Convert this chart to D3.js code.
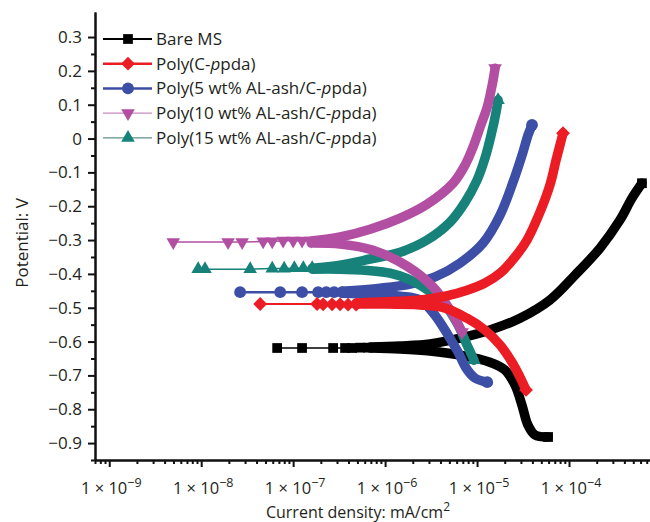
<!DOCTYPE html>
<html>
<head>
<meta charset="utf-8">
<script src="https://cdn.jsdelivr.net/npm/d3@7"></script>
<style>
  body { margin: 0; background: #fff; }
  svg text { font-family: "Open Sans", "Noto Sans", sans-serif; fill: #231f20; }
</style>
</head>
<body>
<div id="chart"></div>
<script>
// Tafel curves: [current density (mA/cm2), potential (V)]
// cathodic = from far cathodic end up to Ecorr, anodic = from Ecorr up
const seriesNames = ['Bare MS', 'Poly(C-ppda)', 'Poly(5 wt% AL-ash/C-ppda)', 'Poly(10 wt% AL-ash/C-ppda)', 'Poly(15 wt% AL-ash/C-ppda)'];

const bareCathodic = [[5.92e-5, -0.882], [4.27e-5, -0.876], [3.58e-5, -0.847], [3.08e-5, -0.788], [2.59e-5, -0.729],
  [2.01e-5, -0.684], [1.38e-5, -0.661], [6.53e-6, -0.640], [3.08e-6, -0.628], [1.46e-6, -0.622], [6.87e-7, -0.619]];
const bareAnodic = [[6.87e-7, -0.616], [1.46e-6, -0.613], [3.08e-6, -0.607], [6.53e-6, -0.590], [1.38e-5, -0.566],
  [2.93e-5, -0.531], [6.21e-5, -0.477], [1.16e-4, -0.404], [2.17e-4, -0.324], [3.58e-4, -0.241], [4.84e-4, -0.176], [6.21e-4, -0.132]];
const bareEcorr = [[6.70e-8, -0.619], [1.25e-7, -0.619], [2.72e-7, -0.619], [3.67e-7, -0.619], [4.38e-7, -0.619], [5.35e-7, -0.618], [6.53e-7, -0.618]];

const cppdaCathodic = [[3.41e-5, -0.743], [2.93e-5, -0.705], [2.40e-5, -0.661], [1.78e-5, -0.610], [1.22e-5, -0.566],
  [7.78e-6, -0.531], [4.49e-6, -0.501], [2.40e-6, -0.492], [8.83e-7, -0.489], [4.84e-7, -0.489]];
const cppdaAnodic = [[4.84e-7, -0.486], [8.83e-7, -0.483], [2.40e-6, -0.477], [4.49e-6, -0.466], [7.78e-6, -0.448],
  [1.22e-5, -0.427], [1.78e-5, -0.398], [2.59e-5, -0.350], [3.49e-5, -0.300], [4.84e-5, -0.217], [6.21e-5, -0.137],
  [7.23e-5, -0.064], [7.98e-5, -0.019], [8.61e-5, 0.016]];
const cppdaEcorr = [[4.38e-8, -0.489], [1.82e-7, -0.489], [2.12e-7, -0.490], [2.65e-7, -0.490], [3.24e-7, -0.490], [3.96e-7, -0.491], [4.84e-7, -0.491]];

const ash5Cathodic = [[1.29e-5, -0.720], [9.51e-6, -0.708], [7.59e-6, -0.678], [6.21e-6, -0.631], [4.84e-6, -0.581],
  [3.49e-6, -0.522], [2.40e-6, -0.477], [1.46e-6, -0.466], [6.87e-7, -0.460], [3.41e-7, -0.457]];
const ash5Anodic = [[3.41e-7, -0.451], [8.83e-7, -0.442], [1.87e-6, -0.430], [3.49e-6, -0.409], [6.53e-6, -0.368],
  [1.16e-5, -0.309], [1.78e-5, -0.226], [2.46e-5, -0.129], [3.16e-5, -0.040], [3.58e-5, 0.010], [3.96e-5, 0.040]];
const ash5Ecorr = [[2.65e-8, -0.454], [7.23e-8, -0.454], [1.25e-7, -0.454], [1.87e-7, -0.454], [2.29e-7, -0.454], [2.79e-7, -0.454], [3.41e-7, -0.454]];

const ash10Cathodic = [[6.87e-6, -0.572], [5.09e-6, -0.507], [3.33e-6, -0.439], [1.73e-6, -0.377], [7.42e-7, -0.330],
  [3.24e-7, -0.312], [1.57e-7, -0.309]];
const ash10Anodic = [[1.57e-7, -0.303], [3.24e-7, -0.291], [6.87e-7, -0.268], [1.46e-6, -0.235], [2.86e-6, -0.194],
  [5.48e-6, -0.132], [7.42e-6, -0.078], [9.06e-6, -0.025], [1.10e-5, 0.040], [1.29e-5, 0.093], [1.46e-5, 0.158], [1.57e-5, 0.208]];
const ash10Ecorr = [[4.97e-9, -0.306], [1.96e-8, -0.306], [2.79e-8, -0.306], [4.72e-8, -0.304], [5.92e-8, -0.304],
  [7.78e-8, -0.302], [1.00e-7, -0.302], [1.25e-7, -0.302], [1.57e-7, -0.302]];

const ash15Cathodic = [[9.27e-6, -0.655], [7.78e-6, -0.610], [6.21e-6, -0.551], [4.49e-6, -0.492], [2.40e-6, -0.433],
  [1.13e-6, -0.398], [3.24e-7, -0.386], [1.61e-7, -0.386]];
const ash15Anodic = [[1.61e-7, -0.383], [3.24e-7, -0.374], [6.87e-7, -0.356], [1.46e-6, -0.336], [2.86e-6, -0.300],
  [5.09e-6, -0.247], [7.42e-6, -0.188], [1.00e-5, -0.123], [1.22e-5, -0.058], [1.42e-5, 0.010], [1.61e-5, 0.078], [1.69e-5, 0.114]];
const ash15Ecorr = [[9.27e-9, -0.386], [1.10e-8, -0.386], [3.41e-8, -0.386], [5.92e-8, -0.384], [7.98e-8, -0.384],
  [1.03e-7, -0.383], [1.29e-7, -0.383], [1.61e-7, -0.383]];

const yTicks = [0.3, 0.2, 0.1, 0, -0.1, -0.2, -0.3, -0.4, -0.5, -0.6, -0.7, -0.8, -0.9];
const xTicks = [1e-9, 1e-8, 1e-7, 1e-6, 1e-5, 1e-4];
const xTickExponents = [-9, -8, -7, -6, -5, -4];

class PolarizationPlot {
  constructor(_config, series) {
    this.config = {
      parentElement: _config.parentElement,
      containerWidth: 650,
      containerHeight: 522,
      fontSize: 17,
      margin: { top: 12, right: 0, bottom: 62, left: 95 }
    };
    this.series = series;
    this.initVis();
  }

  initVis() {
    let vis = this;
    const m = vis.config.margin;
    vis.svg = d3.select(vis.config.parentElement).append('svg')
      .attr('width', vis.config.containerWidth)
      .attr('height', vis.config.containerHeight);

    vis.x = d3.scaleLog().domain([7e-10, 7.6e-4])
      .range([m.left, vis.config.containerWidth - m.right]);
    vis.y = d3.scaleLinear().domain([-0.95, 0.374])
      .range([vis.config.containerHeight - m.bottom, m.top]);

    vis.line = d3.line()
      .x(d => vis.x(d[0]))
      .y(d => vis.y(d[1]))
      .curve(d3.curveCatmullRom.alpha(0.5));

    vis.renderAxes();
    vis.renderVis();
    vis.renderLegend();
  }

  symbolPath(type, size) {
    const shapes = { square: d3.symbolSquare, diamond: d3.symbolSquare, circle: d3.symbolCircle, down: d3.symbolTriangle, up: d3.symbolTriangle };
    return d3.symbol().type(shapes[type]).size(size)();
  }

  symbolRotate(type) {
    if (type === 'diamond') return 45;
    if (type === 'down') return 180;
    return 0;
  }

  renderAxes() {
    let vis = this;
    const m = vis.config.margin;
    const fs = vis.config.fontSize;
    const bottom = vis.config.containerHeight - m.bottom;

    // y axis, major + minor
    const yMinor = vis.y.ticks(26).filter(v => Math.abs(Math.round(v * 20)) % 2 === 1 && v < 0.3);
    const yMinorAxis = d3.axisLeft(vis.y).tickValues(yMinor).tickSize(4).tickSizeOuter(0).tickFormat('');
    const yAxis = d3.axisLeft(vis.y).tickValues(yTicks).tickSize(7).tickSizeOuter(0).tickPadding(6)
      .tickFormat(d => d === 0 ? '0' : d3.format('.1f')(d));

    vis.svg.append('g').attr('transform', `translate(${m.left},0)`).call(yMinorAxis);
    const gy = vis.svg.append('g').attr('transform', `translate(${m.left},0)`).call(yAxis);
    gy.selectAll('text').attr('font-size', fs).attr('font-family', '"Open Sans", sans-serif').attr('fill', '#231f20');

    // x axis, log
    const xMinor = vis.x.ticks().filter(v => Math.abs(Math.log10(v) - Math.round(Math.log10(v))) > 1e-6);
    const xMinorAxis = d3.axisBottom(vis.x).tickValues(xMinor).tickSize(4).tickSizeOuter(0).tickFormat('');
    const xAxis = d3.axisBottom(vis.x).tickValues(xTicks).tickSize(7).tickSizeOuter(0).tickFormat('');
    vis.svg.append('g').attr('transform', `translate(0,${bottom})`).call(xMinorAxis);
    vis.svg.append('g').attr('transform', `translate(0,${bottom})`).call(xAxis);
    vis.svg.selectAll('.domain, .tick line').attr('stroke', '#111').attr('stroke-width', 2);

    const xl = vis.svg.append('g').selectAll('text')
      .data(xTicks)
      .join('text')
      .attr('x', d => vis.x(d) + 2)
      .attr('y', bottom + 34)
      .attr('text-anchor', 'middle')
      .attr('font-size', 16.5);
    xl.append('tspan').text('1 × 10');
    xl.append('tspan')
      .attr('dy', -7)
      .attr('font-size', 12.5)
      .text((d, i) => '\u2212' + Math.abs(xTickExponents[i]));

    const xt = vis.svg.append('text')
      .attr('x', 358)
      .attr('y', 517.5)
      .attr('text-anchor', 'middle')
      .attr('font-size', 16);
    xt.append('tspan').text('Current density: mA/cm');
    xt.append('tspan').attr('dy', -7).attr('font-size', 12).text('2');

    vis.svg.append('text')
      .attr('transform', 'translate(28,243) rotate(-90)')
      .attr('text-anchor', 'middle')
      .attr('font-size', fs)
      .text('Potential: V');
  }

  renderVis() {
    let vis = this;
    const thin = d3.line().x(d => vis.x(d[0])).y(d => vis.y(d[1]));

    vis.series.forEach(s => {
      const g = vis.svg.append('g').attr('class', 'series');

      g.append('path')
        .datum(s.ecorr)
        .attr('d', thin)
        .attr('fill', 'none')
        .attr('stroke', s.color)
        .attr('stroke-width', s.thin);

      [s.cathodic, s.anodic].forEach(branch => {
        g.append('path')
          .datum(branch)
          .attr('d', vis.line)
          .attr('fill', 'none')
          .attr('stroke', s.color)
          .attr('stroke-width', 9.5)
          .attr('stroke-linecap', 'round')
          .attr('stroke-linejoin', 'round');
      });

      // markers: sparse ones near Ecorr plus both branch ends
      const pts = s.ecorr.concat([s.cathodic[0], s.anodic[s.anodic.length - 1]]);
      g.selectAll('.marker')
        .data(pts)
        .join('path')
        .attr('class', 'marker')
        .attr('d', vis.symbolPath(s.symbol, s.size))
        .attr('transform', d => `translate(${vis.x(d[0])},${vis.y(d[1])}) rotate(${vis.symbolRotate(s.symbol)})`)
        .attr('fill', s.color);
    });
  }

  renderLegend() {
    let vis = this;
    const rows = vis.svg.append('g').selectAll('g')
      .data(seriesNames.map((n, i) => ({ name: n, s: vis.series.find(d => d.name === n), i })))
      .join('g')
      .attr('transform', d => `translate(0,${39 + d.i * 24.7})`);

    rows.append('line')
      .attr('x1', 103).attr('x2', 152)
      .attr('stroke', d => d.s.legendColor)
      .attr('stroke-width', d => d.s.legendWidth);

    rows.append('path')
      .attr('d', d => vis.symbolPath(d.s.symbol, d.s.size))
      .attr('transform', d => `translate(128,0) rotate(${vis.symbolRotate(d.s.symbol)})`)
      .attr('fill', d => d.s.color);

    const txt = rows.append('text')
      .attr('x', 156)
      .attr('dy', '0.35em')
      .attr('font-size', vis.config.fontSize);
    txt.each(function(d) {
      const t = d3.select(this);
      const k = d.name.indexOf('C-ppda');
      if (k < 0) { t.text(d.name); return; }
      t.append('tspan').text(d.name.slice(0, k + 2));
      t.append('tspan').attr('font-style', 'italic').text('p');
      t.append('tspan').text(d.name.slice(k + 3));
    });
  }
}

const series = [
  { name: seriesNames[0], color: '#000000', legendColor: '#000000', legendWidth: 2.2, thin: 1.6, symbol: 'square', size: 95,
    cathodic: bareCathodic, anodic: bareAnodic, ecorr: bareEcorr },
  { name: seriesNames[2], color: '#3c4ea6', legendColor: '#3c4ea6', legendWidth: 2.5, thin: 2.5, symbol: 'circle', size: 110,
    cathodic: ash5Cathodic, anodic: ash5Anodic, ecorr: ash5Ecorr },
  { name: seriesNames[4], color: '#16827a', legendColor: '#5e8f8c', legendWidth: 1.2, thin: 1.5, symbol: 'up', size: 80,
    cathodic: ash15Cathodic, anodic: ash15Anodic, ecorr: ash15Ecorr },
  { name: seriesNames[3], color: '#b24fa3', legendColor: '#c98bbf', legendWidth: 1.2, thin: 1.5, symbol: 'down', size: 80,
    cathodic: ash10Cathodic, anodic: ash10Anodic, ecorr: ash10Ecorr },
  { name: seriesNames[1], color: '#ec1c24', legendColor: '#ec1c24', legendWidth: 2.5, thin: 2.2, symbol: 'diamond', size: 95,
    cathodic: cppdaCathodic, anodic: cppdaAnodic, ecorr: cppdaEcorr }
];

new PolarizationPlot({ parentElement: '#chart' }, series);
</script>
</body>
</html>
